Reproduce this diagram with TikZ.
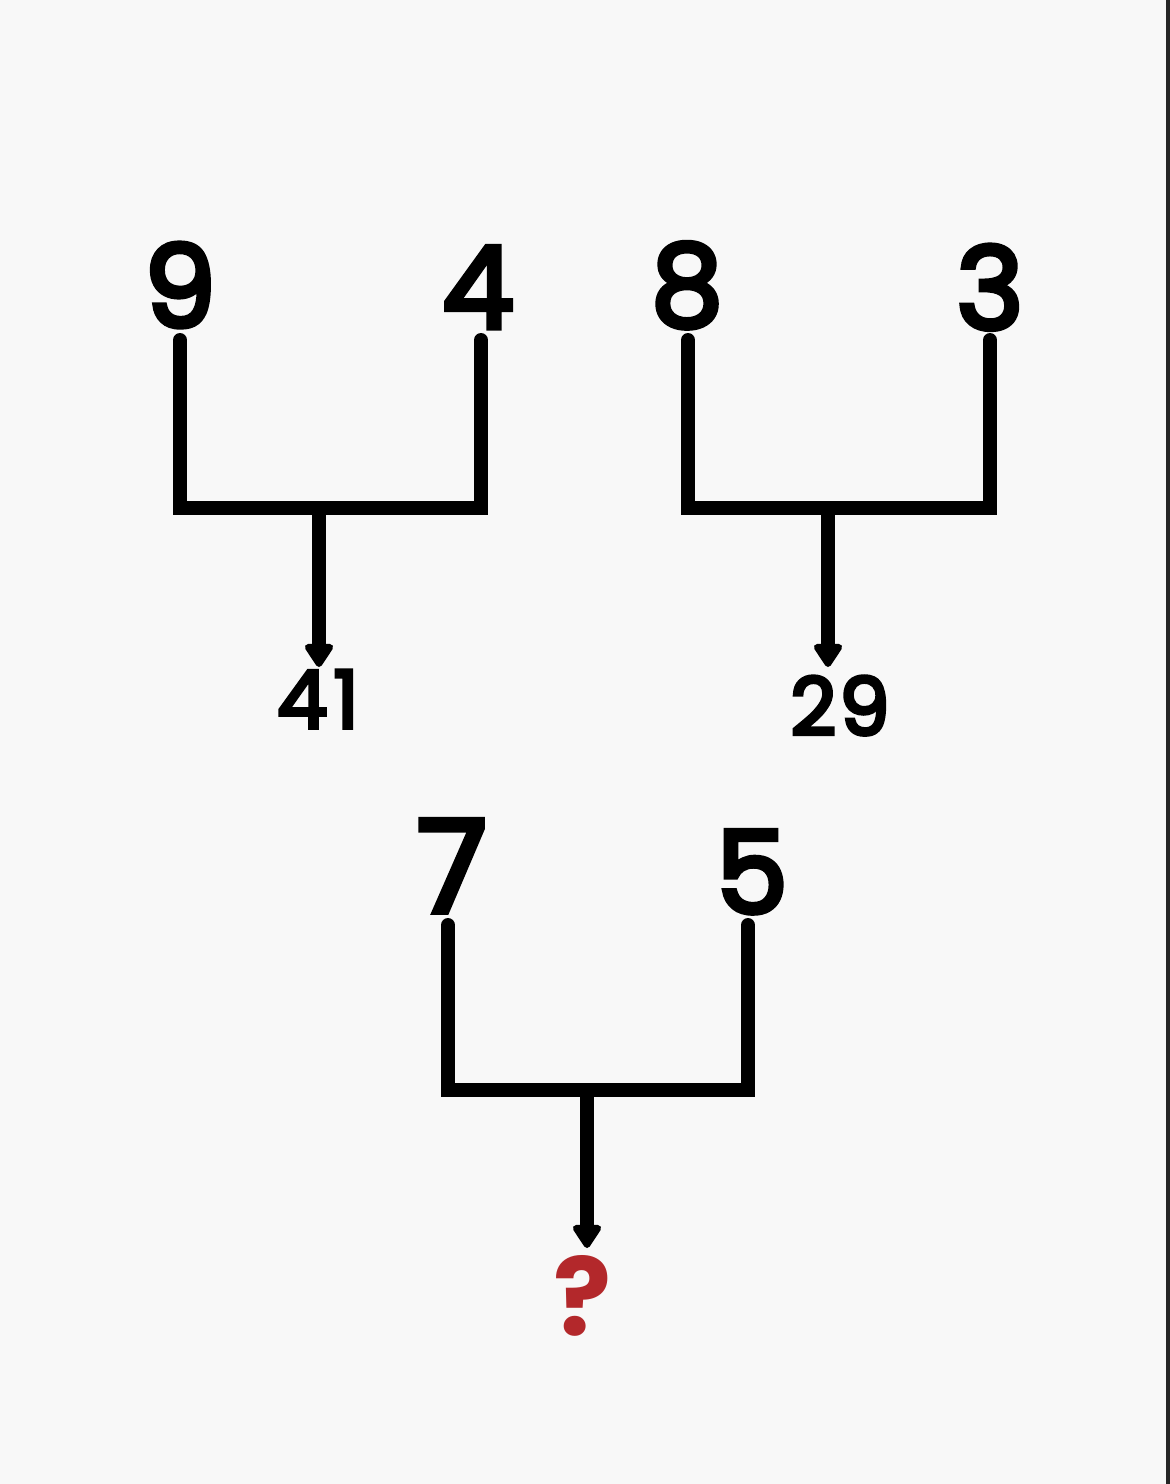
\documentclass[tikz,border=0pt]{standalone}
\usepackage{fontspec}
\setmainfont{Poppins}
\newfontfamily\numf{Poppins}[FakeBold=4.5]
\usetikzlibrary{arrows.meta}
\definecolor{bgc}{HTML}{F8F8F8}
\definecolor{qred}{HTML}{B3282B}
\begin{document}
\begin{tikzpicture}[x=1pt,y=-1pt,
  bar/.style={line width=14pt,line cap=round,line join=miter,black},
  stem/.style={line width=14pt,black,-{Triangle[width=32pt,length=26pt,round]}},
  big/.style={anchor=base,inner sep=0pt,font=\fontsize{114}{114}\selectfont\numf},
  mid/.style={anchor=base,inner sep=0pt,font=\fontsize{80}{80}\selectfont\numf}]
\useasboundingbox (0,0) rectangle (1170,1484);
\fill[bgc] (0,0) rectangle (1170,1484);
\fill[black!85] (1166,0) rectangle (1170,1484);
% labels
\node[big] (n9) at (180,327) {9};
\node[big] (n4) at (478,328) {4};
\node[big] (n8) at (687,326) {8};
\node[big] (n3) at (990,329) {3};
\node[mid] (r41) at (318,728) {4\kern6pt1};
\node[mid] (r29) at (840,735) {2\kern3pt9};
\node[big,font=\fontsize{128}{128}\selectfont\numf] (n7) at (452,912) {7};
\node[big] (n5) at (752,913) {5};
\node[anchor=base,inner sep=0pt,text=qred,font=\fontsize{108}{108}\selectfont\bfseries] (q) at (583,1335) {?};
% tree 1
\coordinate (a1) at (180,340); \coordinate (a2) at (180,508);
\coordinate (b2) at (481,508); \coordinate (b1) at (481,340);
\coordinate (s1) at (319,508); \coordinate (t1) at (319,667);
\draw[bar] (a1) -- (a2) -- (b2) -- (b1);
\draw[stem] (s1) -- (t1);
% tree 2
\coordinate (c1) at (688,340); \coordinate (c2) at (688,508);
\coordinate (d2) at (990,508); \coordinate (d1) at (990,340);
\coordinate (s2) at (828,508); \coordinate (t2) at (828,667);
\draw[bar] (c1) -- (c2) -- (d2) -- (d1);
\draw[stem] (s2) -- (t2);
% tree 3
\coordinate (e1) at (448,925); \coordinate (e2) at (448,1090);
\coordinate (f2) at (748,1090); \coordinate (f1) at (748,925);
\coordinate (s3) at (587,1090); \coordinate (t3) at (587,1248);
\draw[bar] (e1) -- (e2) -- (f2) -- (f1);
\draw[stem] (s3) -- (t3);
\end{tikzpicture}
\end{document}
